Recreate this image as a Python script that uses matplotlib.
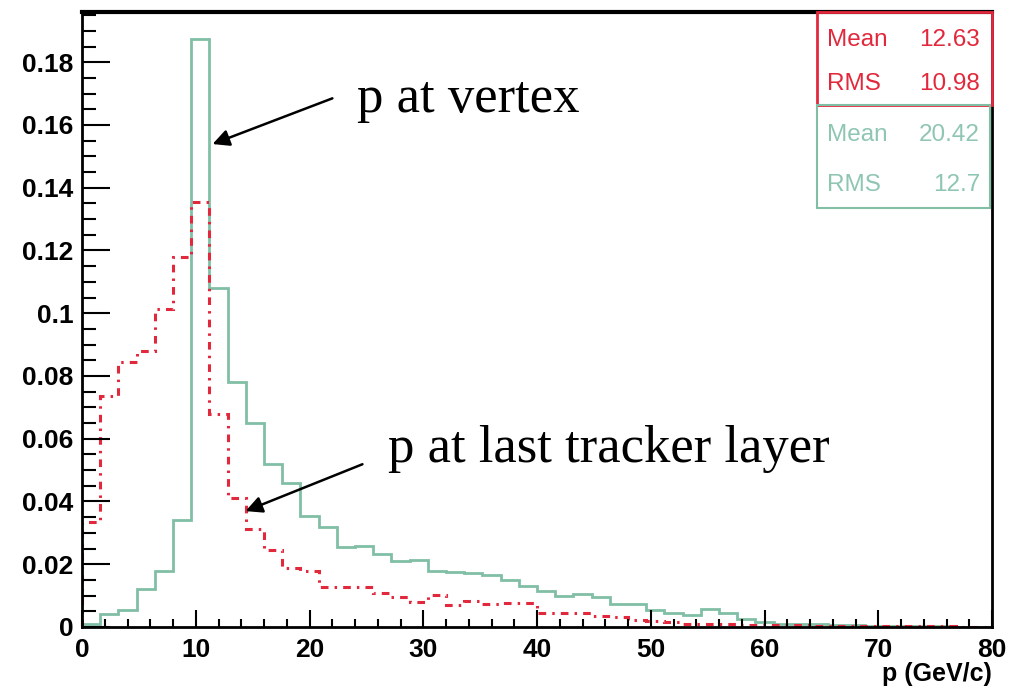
import numpy as np
import matplotlib
matplotlib.use('Agg')
import matplotlib.pyplot as plt
from matplotlib.patches import Rectangle
from matplotlib.ticker import MultipleLocator

# 50 bins of 1.6 GeV/c between 0 and 80
bin_width = 1.6
edges = np.arange(51) * bin_width

# p at vertex (green, solid)
p_vertex = [0.001, 0.004, 0.0055, 0.012, 0.018, 0.034, 0.1875, 0.108, 0.078, 0.065,
            0.052, 0.046, 0.0355, 0.032, 0.0255, 0.0257, 0.0234, 0.021, 0.0213, 0.0178,
            0.0176, 0.0172, 0.0167, 0.015, 0.0131, 0.0116, 0.0099, 0.0105, 0.0097, 0.0074,
            0.0073, 0.0054, 0.0044, 0.0038, 0.0056, 0.0044, 0.0025, 0.0017, 0.0011, 0.001,
            0.0009, 0.0006, 0.0005, 0.0004, 0.0003, 0.0003, 0.0002, 0.0002, 0.0001, 0.0001]

# p at last tracker layer (red, dash-dot)
p_last = [0.0335, 0.0735, 0.0845, 0.088, 0.1015, 0.118, 0.1355, 0.0678, 0.041, 0.0312,
          0.0244, 0.0187, 0.0177, 0.0128, 0.0128, 0.0128, 0.0107, 0.0097, 0.0081, 0.0102,
          0.0071, 0.0084, 0.0073, 0.0075, 0.0075, 0.0046, 0.0046, 0.0046, 0.0036, 0.0033,
          0.0023, 0.002, 0.0016, 0.0011, 0.001, 0.0009, 0.0007, 0.0006, 0.0005, 0.0005,
          0.0004, 0.0003, 0.0003, 0.0003, 0.0002, 0.0002, 0.0002, 0.0002, 0.0001, 0.0001]

stats_last = [('Mean', '12.63'), ('RMS', '10.98')]
stats_vertex = [('Mean', '20.42'), ('RMS', '12.7')]

green = '#80bfa6'
red = '#e2283c'

plt.rcParams['font.family'] = ['Liberation Sans', 'DejaVu Sans']

fig = plt.figure(figsize=(10.1, 6.93), dpi=100)
ax = fig.add_axes([82 / 1010, 1 - 627 / 693, 910 / 1010, 615 / 693])

ax.stairs(p_vertex, edges, color=green, lw=2.0)
ax.stairs(p_last, edges, color=red, lw=2.2, linestyle=(0, (2.5, 2, 0.8, 2)))

ax.set_xlim(0, 80)
ax.set_ylim(0, 0.196)

ax.xaxis.set_major_locator(MultipleLocator(10))
ax.xaxis.set_minor_locator(MultipleLocator(2))
ax.yaxis.set_minor_locator(MultipleLocator(0.005))
ax.set_yticks([0, 0.02, 0.04, 0.06, 0.08, 0.1, 0.12, 0.14, 0.16, 0.18])
ax.set_yticklabels(['0', '0.02', '0.04', '0.06', '0.08', '0.1', '0.12', '0.14', '0.16', '0.18'])

ax.tick_params(axis='x', which='major', direction='in', length=12, width=1.5, pad=8,
               labelsize=19)
ax.tick_params(axis='x', which='minor', direction='in', length=6, width=1.5)
ax.tick_params(axis='y', which='major', direction='in', length=20, width=1.5, pad=6,
               labelsize=19)
ax.tick_params(axis='y', which='minor', direction='in', length=10, width=1.5)
for lab in ax.get_xticklabels() + ax.get_yticklabels():
    lab.set_fontweight('bold')

for s in ax.spines.values():
    s.set_linewidth(2)
ax.spines['top'].set_linewidth(3)

ax.set_xlabel('p (GeV/c)', loc='right', fontsize=18, fontweight='bold', labelpad=0)

# annotations
ax.annotate('', xy=(11.25, 0.1536), xytext=(22.24, 0.1688),
            arrowprops=dict(arrowstyle='-|>', color='black', lw=1.8, mutation_scale=25))
ax.text(24.2, 0.164, 'p at vertex', fontsize=38, family='Liberation Serif', va='baseline')
ax.annotate('', xy=(14.15, 0.0366), xytext=(24.88, 0.0522),
            arrowprops=dict(arrowstyle='-|>', color='black', lw=1.8, mutation_scale=25))
ax.text(26.9, 0.0526, 'p at last tracker layer', fontsize=38, family='Liberation Serif',
        va='baseline')

# stats boxes
ax.add_patch(Rectangle((0.8077, 0.8488), 0.1923, 0.1512, transform=ax.transAxes,
                       fill=False, edgecolor=red, lw=2, clip_on=False, zorder=5))
ax.add_patch(Rectangle((0.8077, 0.6813), 0.1903, 0.1675, transform=ax.transAxes,
                       fill=False, edgecolor=green, lw=1.5, clip_on=False, zorder=5))
rows_y = [0.9545, 0.8829, 0.80, 0.7187]
rows = [(k, v, red) for k, v in stats_last] + [(k, v, '#8fc6b2') for k, v in stats_vertex]
for (k, v, c), y in zip(rows, rows_y):
    ax.text(0.8187, y, k, transform=ax.transAxes, color=c, fontsize=17.5, va='center')
    ax.text(0.9868, y, v, transform=ax.transAxes, color=c, fontsize=17.5, va='center',
            ha='right')

fig.savefig('out.png', dpi=100)
